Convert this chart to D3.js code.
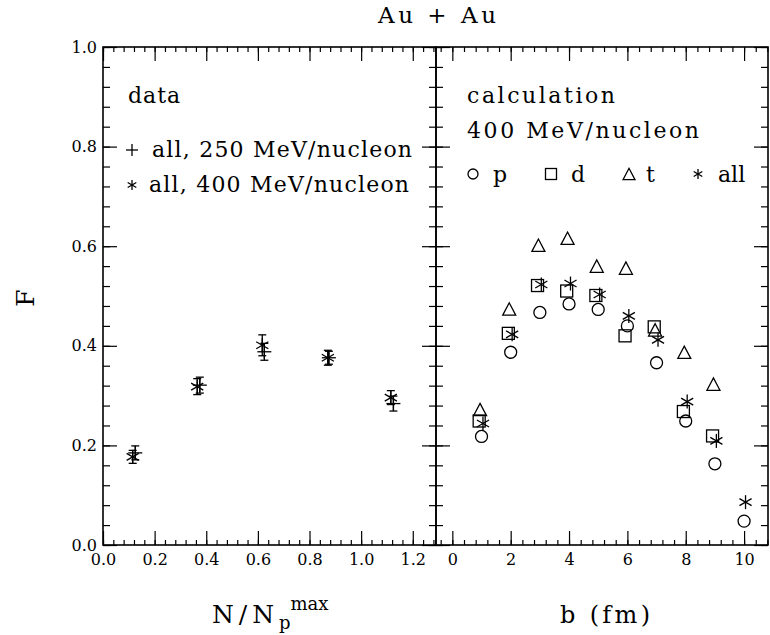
<!DOCTYPE html>
<html>
<meta charset="utf-8">
<head>
<style>
body { margin: 0; background: #fff; }
text { font-family: "DejaVu Serif", serif; fill: #000; }
.tick line { stroke: #000; stroke-width: 1.2px; }
.frame { fill: none; stroke: #000; stroke-width: 1.6px; }
.mk { fill: none; stroke: #000; stroke-width: 1.3px; }
.err { stroke: #000; stroke-width: 1.3px; }
</style>
</head>
<body>
<script src="https://d3js.org/d3.v7.min.js"></script>
<script>

// measured data (left panel), N/Np^max vs F
var dataX250 = [0.125, 0.375, 0.625, 0.875, 1.125];
var dataF250 = [0.185, 0.321, 0.388, 0.376, 0.284];
var dataE250 = [0.014, 0.016, 0.017, 0.013, 0.015];
var dataX400 = [0.115, 0.365, 0.617, 0.871, 1.115];
var dataF400 = [0.177, 0.318, 0.401, 0.376, 0.296];
var dataE400 = [0.013, 0.016, 0.021, 0.015, 0.014];

// calculation (right panel), b (fm) vs F
var bP = [1, 2, 3, 4, 5, 6, 7, 8, 9, 10];
var fP = [0.218, 0.387, 0.467, 0.484, 0.473, 0.440, 0.366, 0.249, 0.163, 0.048];
var bD = [1, 2, 3, 4, 5, 6, 7, 8, 9];
var fD = [0.249, 0.425, 0.521, 0.510, 0.501, 0.420, 0.438, 0.268, 0.219];
var bT = [1, 2, 3, 4, 5, 6, 7, 8, 9];
var fT = [0.272, 0.474, 0.602, 0.616, 0.560, 0.556, 0.432, 0.387, 0.323];
var bAll = [1, 2, 3, 4, 5, 6, 7, 8, 9, 10];
var fAll = [0.244, 0.423, 0.523, 0.525, 0.503, 0.460, 0.412, 0.288, 0.209, 0.086];

// ticks
var yMajor = [0, 0.2, 0.4, 0.6, 0.8, 1.0];
var yMinor = d3.range(0, 1.001, 0.04);
var xLMajor = [0, 0.2, 0.4, 0.6, 0.8, 1.0, 1.2];
var xLMinor = d3.range(0, 1.29, 0.04);
var xRMajor = [0, 2, 4, 6, 8, 10];
var xRMinor = d3.range(-0.4, 10.81, 0.4);

var W = 770, H = 635;
var pTop = 47, pBottom = 545, pLeft = 103, pMid = 436, pRight = 768;

var svg = d3.select("body").append("svg")
    .attr("width", W)
    .attr("height", H);

var y = d3.scaleLinear().domain([0, 1]).range([pBottom, pTop]);
var xL = d3.scaleLinear().domain([0, 1.29]).range([pLeft, pMid]);
var xR = d3.scaleLinear().domain([-0.56, 10.82]).range([pMid, pRight]);

// draws the four sides of ticks for one panel
function panel(x, xMaj, xMin, xFmt, yLabels) {
  var x0 = x.range()[0], x1 = x.range()[1];
  var g = svg.append("g");

  g.append("g").attr("transform", "translate(0," + pBottom + ")")
    .call(d3.axisBottom(x).tickValues(xMin).tickSize(-5).tickFormat(""));
  g.append("g").attr("transform", "translate(0," + pBottom + ")")
    .call(d3.axisBottom(x).tickValues(xMaj).tickSize(-14).tickPadding(9).tickFormat(xFmt));
  g.append("g").attr("transform", "translate(0," + pTop + ")")
    .call(d3.axisTop(x).tickValues(xMin).tickSize(-5).tickFormat(""));
  g.append("g").attr("transform", "translate(0," + pTop + ")")
    .call(d3.axisTop(x).tickValues(xMaj).tickSize(-14).tickFormat(""));

  g.append("g").attr("transform", "translate(" + x0 + ",0)")
    .call(d3.axisLeft(y).tickValues(yMinor).tickSize(-7).tickFormat(""));
  g.append("g").attr("transform", "translate(" + x0 + ",0)")
    .call(d3.axisLeft(y).tickValues(yMajor).tickSize(-14).tickPadding(6)
      .tickFormat(yLabels ? d3.format(".1f") : ""));
  g.append("g").attr("transform", "translate(" + x1 + ",0)")
    .call(d3.axisRight(y).tickValues(yMinor).tickSize(-7).tickFormat(""));
  g.append("g").attr("transform", "translate(" + x1 + ",0)")
    .call(d3.axisRight(y).tickValues(yMajor).tickSize(-14).tickFormat(""));

  g.selectAll(".domain").remove();
  g.selectAll(".tick text")
    .style("font-family", "DejaVu Serif, serif")
    .style("font-size", "16px");
  g.append("rect").attr("class", "frame")
    .attr("x", x0).attr("y", pTop)
    .attr("width", x1 - x0).attr("height", pBottom - pTop);
}

panel(xL, xLMajor, xLMinor, d3.format(".1f"), true);
panel(xR, xRMajor, xRMinor, d3.format("d"), false);

// marker shapes
function star(g, cx, cy, r) {
  [90, 30, 150].forEach(function(a) {
    var dx = r * Math.cos(a * Math.PI / 180), dy = r * Math.sin(a * Math.PI / 180);
    g.append("line").attr("class", "mk")
      .attr("x1", cx - dx).attr("y1", cy - dy).attr("x2", cx + dx).attr("y2", cy + dy);
  });
}
function plus(g, cx, cy, r) {
  g.append("line").attr("class", "mk").attr("x1", cx - r).attr("x2", cx + r).attr("y1", cy).attr("y2", cy);
  g.append("line").attr("class", "mk").attr("x1", cx).attr("x2", cx).attr("y1", cy - r).attr("y2", cy + r);
}
function circle(g, cx, cy, r) {
  g.append("circle").attr("class", "mk").attr("cx", cx).attr("cy", cy).attr("r", r);
}
function square(g, cx, cy, r) {
  g.append("rect").attr("class", "mk").attr("x", cx - r).attr("y", cy - r)
    .attr("width", 2 * r).attr("height", 2 * r);
}
function tri(g, cx, cy, r) {
  var h = r * 1.9;
  g.append("path").attr("class", "mk")
    .attr("d", "M" + (cx - r) + "," + (cy + h / 2) + "L" + cx + "," + (cy - h / 2) +
      "L" + (cx + r) + "," + (cy + h / 2) + "Z");
}
function errbar(g, cx, cy0, cy1) {
  g.append("line").attr("class", "err").attr("x1", cx).attr("x2", cx).attr("y1", cy0).attr("y2", cy1);
  [cy0, cy1].forEach(function(c) {
    g.append("line").attr("class", "err").attr("x1", cx - 4).attr("x2", cx + 4).attr("y1", c).attr("y2", c);
  });
}

// left panel points
var gl = svg.append("g");
dataX250.forEach(function(v, i) {
  errbar(gl, xL(v), y(dataF250[i] - dataE250[i]), y(dataF250[i] + dataE250[i]));
  plus(gl, xL(v), y(dataF250[i]), 7);
});
dataX400.forEach(function(v, i) {
  errbar(gl, xL(v), y(dataF400[i] - dataE400[i]), y(dataF400[i] + dataE400[i]));
  star(gl, xL(v), y(dataF400[i]), 7);
});

// right panel points, small offsets in b per species
var gr = svg.append("g");
bP.forEach(function(b, i) { circle(gr, xR(b), y(fP[i]), 6); });
bD.forEach(function(b, i) { square(gr, xR(b - 0.08), y(fD[i]), 6); });
bT.forEach(function(b, i) { tri(gr, xR(b - 0.05), y(fT[i]), 6.5); });
bAll.forEach(function(b, i) { star(gr, xR(b + 0.05), y(fAll[i]), 7); });

// texts
svg.append("text").attr("x", 378).attr("y", 23).style("font-size", "23px")
  .attr("textLength", 118).attr("xml:space", "preserve").text("Au + Au");

svg.append("text").attr("x", 128).attr("y", 103).style("font-size", "22px")
  .style("letter-spacing", "1px").text("data");
plus(svg, 132, 150, 6);
svg.append("text").attr("x", 152).attr("y", 157).style("font-size", "22px")
  .attr("textLength", 260).text("all, 250 MeV/nucleon");
star(svg, 132, 185, 5);
svg.append("text").attr("x", 149).attr("y", 192).style("font-size", "22px")
  .attr("textLength", 260).text("all, 400 MeV/nucleon");

svg.append("text").attr("x", 467).attr("y", 103).style("font-size", "22px")
  .attr("textLength", 148).text("calculation");
svg.append("text").attr("x", 467).attr("y", 138).style("font-size", "22px")
  .attr("textLength", 232).text("400 MeV/nucleon");

circle(svg, 473, 174, 5);
svg.append("text").attr("x", 493).attr("y", 182).style("font-size", "22px").text("p");
square(svg, 551, 174, 5.5);
svg.append("text").attr("x", 571).attr("y", 182).style("font-size", "22px").text("d");
tri(svg, 629, 174, 6);
svg.append("text").attr("x", 646).attr("y", 182).style("font-size", "22px").text("t");
star(svg, 698, 174, 5);
svg.append("text").attr("x", 718).attr("y", 182).style("font-size", "22px").text("all");

// axis titles
var nt = svg.append("text").attr("x", 212).attr("y", 623)
  .style("font-size", "25px");
nt.append("tspan").attr("textLength", 62).text("N/N");
nt.append("tspan").attr("dy", 6).style("font-size", "18px").text("p");
nt.append("tspan").attr("dy", -19).style("font-size", "18px").text("max");

svg.append("text").attr("x", 560).attr("y", 623)
  .style("font-size", "24px").attr("textLength", 90)
  .attr("xml:space", "preserve").text("b (fm)");

svg.append("text").attr("transform", "translate(34,298) rotate(-90)")
  .attr("text-anchor", "middle").style("font-size", "25px").text("F");

</script>
</body>
</html>
